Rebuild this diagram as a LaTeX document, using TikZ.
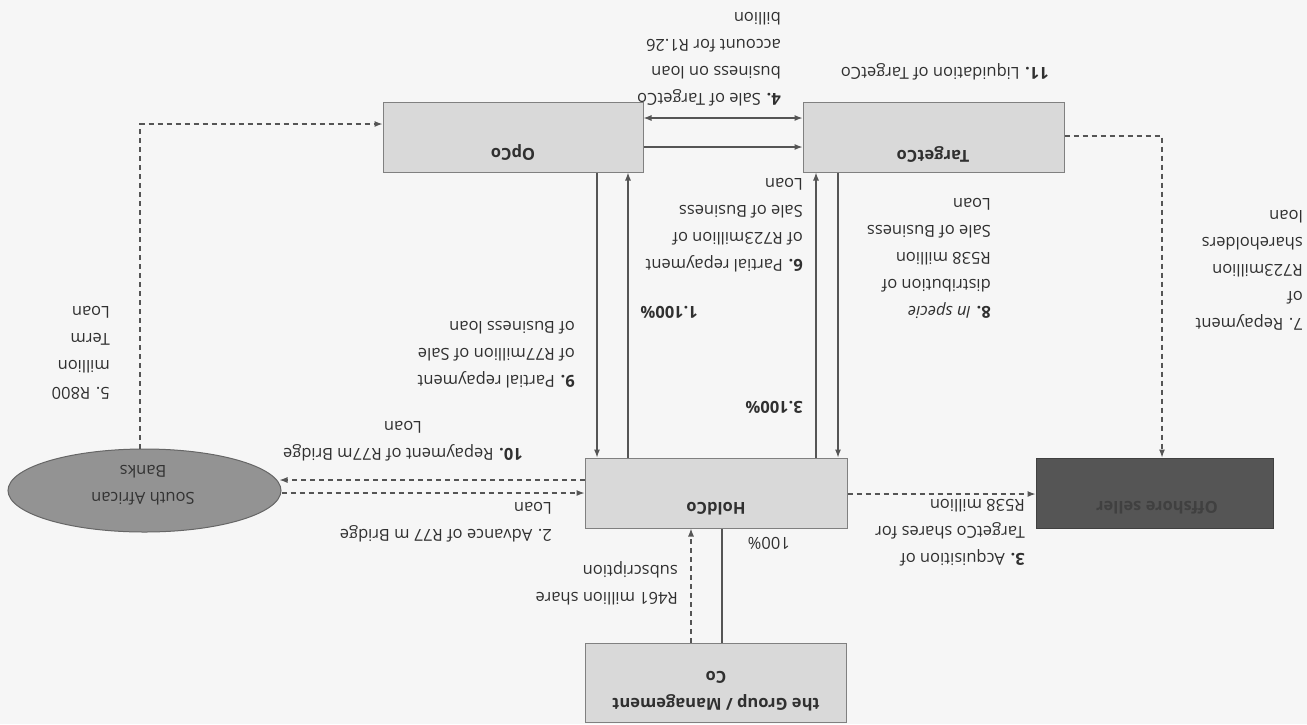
\documentclass[tikz,border=0pt]{standalone}
\usepackage{fontspec}
\setmainfont{Open Sans}
\usetikzlibrary{arrows.meta,calc,shapes.geometric}
\definecolor{bg}{HTML}{F6F6F6}
\definecolor{boxfill}{HTML}{D9D9D9}
\definecolor{boxline}{HTML}{808080}
\definecolor{ellfill}{HTML}{939393}
\definecolor{ellline}{HTML}{666666}
\definecolor{darkfill}{HTML}{555555}
\definecolor{darkline}{HTML}{404040}
\definecolor{linecol}{HTML}{555555}
\definecolor{txt}{HTML}{303030}
\begin{document}
\begin{tikzpicture}[x=1pt,y=-1pt,
  box/.style={rectangle, draw=boxline, fill=boxfill, line width=1pt, inner sep=0pt},
  lbl/.style={rotate=180, anchor=north west, align=left, inner sep=0pt, text=txt,
              font=\fontsize{16.5}{27}\selectfont},
  boxlbl/.style={rotate=180, align=center, inner sep=0pt, text=txt,
              font=\fontsize{16.5}{27}\selectfont\bfseries},
  conn/.style={draw=linecol, line width=1.1pt},
  dsh/.style={conn, dash pattern=on 5pt off 4pt},
  arr/.style={-{Latex[length=8pt,width=6pt]}},
  darr/.style={{Latex[length=8pt,width=6pt]}-{Latex[length=8pt,width=6pt]}}]
\fill[bg] (0,0) rectangle (1307,724);
\useasboundingbox (0,0) rectangle (1307,724);

% boxes
\node[box, minimum width=260pt, minimum height=70pt] (opco) at (513,137) {};
\node[box, minimum width=261pt, minimum height=70pt] (targetco) at (933.5,137) {};
\node[box, minimum width=262pt, minimum height=70pt] (holdco) at (716,493) {};
\node[box, minimum width=261pt, minimum height=79pt] (mgmt) at (716,682.5) {};
\node[rectangle, draw=darkline, fill=darkfill, line width=1pt, inner sep=0pt,
      minimum width=237pt, minimum height=70pt] (offshore) at (1154.5,493) {};
\node[ellipse, draw=ellline, fill=ellfill, line width=1pt, inner sep=0pt,
      minimum width=273pt, minimum height=83pt] (banks) at (144.5,490.5) {};

% box texts
\node[boxlbl] (opcot) at (513,152) {OpCo};
\node[boxlbl] (targetcot) at (933,154) {TargetCo};
\node[boxlbl] (holdcot) at (716,509) {HoldCo};
\node[boxlbl] (mgmtt) at (716,691) {the Group /  Management\\Co};
\node[boxlbl, text=darkline] (offshoret) at (1157,508) {Offshore seller};
\node[boxlbl, font=\fontsize{16.5}{27}\selectfont, text=black!80] (bankst) at (143,485) {South African\\Banks};

% connectors
\draw[conn,darr] ($(opco.east)+(0,-19)$) -- ($(targetco.west)+(0,-19)$);
\draw[conn,arr] ($(opco.east)+(0,10)$) -- ($(targetco.west)+(0,10)$);
\draw[conn,arr] ($(opco.south)+(84,0)$) -- ($(holdco.north)+(-119,0)$);
\draw[conn,arr] ($(holdco.north)+(-88,0)$) -- ($(opco.south)+(115,0)$);
\draw[conn,arr] ($(holdco.north)+(100,0)$) -- ($(targetco.south)+(-117.5,0)$);
\draw[conn,arr] ($(targetco.south)+(-95.5,0)$) -- ($(holdco.north)+(122,0)$);
\draw[dsh,arr] ($(mgmt.north)+(-25,0)$) -- ($(holdco.south)+(-25,0)$);
\draw[conn] ($(mgmt.north)+(6,0)$) -- ($(holdco.south)+(6,0)$);
\draw[dsh,arr] ($(holdco.east)+(0,1)$) -- ($(offshore.west)+(0,1)$);
\draw[dsh,arr] ($(targetco.east)+(0,-1)$) -| ($(offshore.north)+(7.5,0)$);
\draw[dsh,arr] ($(holdco.west)+(0,-13)$) -- ($(banks.east)+(-2,-10.5)$);
\draw[dsh,arr] ($(banks.east)+(0,2.5)$) -- (holdco.west);
\draw[dsh,arr] ($(banks.north)+(-4.5,0)$) |- ($(opco.west)+(0,-13)$);

% labels
\node[lbl] (l4) at (781,106) {\textbf{4.} Sale of TargetCo\\business on loan\\account for R1.26\\billion};
\node[lbl] (l6) at (803,272) {\textbf{6.} Partial repayment\\of R723million of\\Sale of Business\\Loan};
\node[lbl] (l1) at (698,319) {\textbf{1.100\%}};
\node[lbl] (l9) at (575,388) {\textbf{9.} Partial repayment\\of R77million of Sale\\of Business loan};
\node[lbl, align=center] (l10) at (523,461) {\textbf{10.} Repayment of R77m Bridge\\Loan};
\node[lbl] (l2) at (552,542) {2. Advance of R77 m Bridge\\Loan};
\node[lbl] (lsub) at (678,605) {R461 million share\\subscription};
\node[lbl] (l100) at (790,550) {100\%};
\node[lbl] (l3p) at (803,414) {\textbf{3.100\%}};
\node[lbl] (l3) at (1025,566) {\textbf{3.} Acquisition of\\TargetCo shares for\\R538 million};
\node[lbl] (l8) at (991,319) {\textbf{8.} \textit{In specie}\\distribution of\\R538 million\\Sale of Business\\Loan};
\node[lbl] (l11) at (1049,80) {\textbf{11.} Liquidation of TargetCo};
\node[lbl] (l7) at (1303,330) {7. Repayment\\of\\R723million\\shareholders\\loan};
\node[lbl] (l5) at (110,400) {5. R800\\million\\Term\\Loan};
\end{tikzpicture}
\end{document}
